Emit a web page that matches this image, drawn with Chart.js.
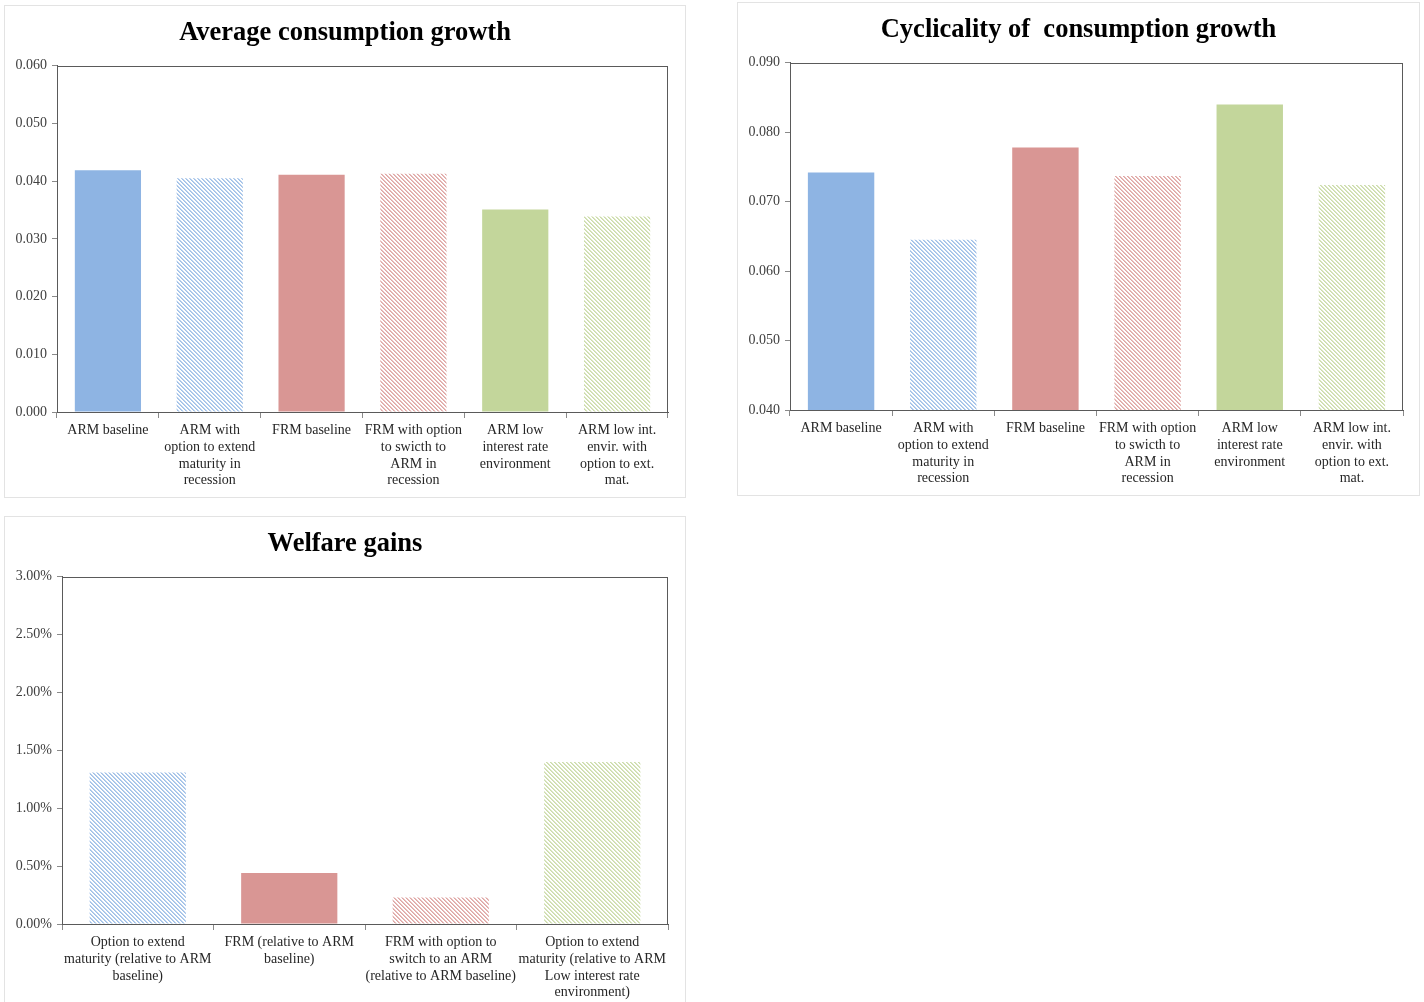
<!DOCTYPE html>
<html>
<head>
<meta charset="utf-8">
<script src="https://cdn.jsdelivr.net/npm/chart.js@4/dist/chart.umd.min.js"></script>
<style>
  html, body { margin: 0; padding: 0; background: #fff; width: 1424px; height: 1002px; overflow: hidden; }
  .panel { position: absolute; border: 1px solid #e3e3e3; background: #fff; box-sizing: border-box; }
  .panel canvas { display: block; }
</style>
</head>
<body>
<div class="panel" style="left:4px;top:5px;width:682px;height:493px;"><canvas id="avg" width="680" height="491"></canvas></div>
<div class="panel" style="left:737px;top:2px;width:683px;height:494px;"><canvas id="cyc" width="681" height="492"></canvas></div>
<div class="panel" style="left:4px;top:516px;width:682px;height:492px;"><canvas id="wel" width="680" height="490"></canvas></div>
<script>
// Scenario labels (one entry per category, split into the printed lines)
const scenarioLabels = [
  ['ARM baseline'],
  ['ARM with', 'option to extend', 'maturity in', 'recession'],
  ['FRM baseline'],
  ['FRM with option', 'to swicth to', 'ARM in', 'recession'],
  ['ARM low', 'interest rate', 'environment'],
  ['ARM low int.', 'envir. with', 'option to ext.', 'mat.']
];
const avgGrowth   = [0.0419, 0.0405, 0.0411, 0.0413, 0.0351, 0.0339];
const cyclicality = [0.0742, 0.0645, 0.0778, 0.0737, 0.0840, 0.0724];

const welfareLabels = [
  ['Option to extend', 'maturity (relative to ARM', 'baseline)'],
  ['FRM (relative to ARM', 'baseline)'],
  ['FRM with option to', 'switch to an ARM', '(relative to ARM baseline)'],
  ['Option to extend', 'maturity (relative to ARM', 'Low interest rate', 'environment)']
];
const welfareGains = [0.0131, 0.0044, 0.0023, 0.0140];

// Axis tick settings
const avgTicks = { min: 0, max: 0.06, step: 0.01 };
const cycTicks = { min: 0.04, max: 0.09, step: 0.01 };
const welTicks = { min: 0, max: 0.03, step: 0.005 };

const BLUE = '#8EB4E3', RED = '#D99694', GREEN = '#C3D69B';
const SERIF = "'Liberation Serif', 'DejaVu Serif', serif";

// Fine downward diagonal hatch fill: two tinted pixel lines, two blank
function hatch(color) {
  const c = document.createElement('canvas');
  c.width = 4; c.height = 4;
  const g = c.getContext('2d');
  g.fillStyle = '#fff';
  g.fillRect(0, 0, 4, 4);
  g.fillStyle = color;
  for (let y = 0; y < 4; y++) {
    for (let x = 0; x < 4; x++) {
      const d = ((x - y) % 4 + 4) % 4;
      if (d === 0) { g.globalAlpha = 0.85; g.fillRect(x, y, 1, 1); }
      if (d === 1) { g.globalAlpha = 0.6; g.fillRect(x, y, 1, 1); }
    }
  }
  return document.getElementById('avg').getContext('2d').createPattern(c, 'repeat');
}

const scenarioFills = [BLUE, hatch(BLUE), RED, hatch(RED), GREEN, hatch(GREEN)];
const welfareFills = [hatch(BLUE), RED, hatch(RED), hatch(GREEN)];

// Plot-area frame
const frame = {
  id: 'frame',
  afterDraw(chart) {
    const a = chart.chartArea, ctx = chart.ctx;
    ctx.save();
    ctx.strokeStyle = '#5a5a5a';
    ctx.lineWidth = 1;
    ctx.strokeRect(Math.round(a.left) + 0.5, Math.round(a.top) + 0.5,
                   Math.round(a.right - a.left) - 1, Math.round(a.bottom - a.top));
    ctx.restore();
  }
};

function makeChart(id, title, labels, values, fills, ticks, fmt, yWidth, rightGap, xHeight, barPct) {
  return new Chart(document.getElementById(id), {
    type: 'bar',
    data: {
      labels: labels,
      datasets: [{ data: values, backgroundColor: fills, borderWidth: 0,
                   barPercentage: barPct, categoryPercentage: 1 }]
    },
    options: {
      responsive: false,
      animation: false,
      layout: { padding: 0 },
      plugins: {
        legend: { display: false },
        tooltip: { enabled: false },
        title: {
          display: true, text: title, color: '#000',
          font: { family: SERIF, size: 26.5, weight: 'bold', lineHeight: 1.2 },
          padding: { top: 11, bottom: 17 }
        }
      },
      scales: {
        x: {
          grid: { drawOnChartArea: false, drawTicks: true, tickLength: 6, color: '#8a8a8a', offset: true },
          border: { color: '#5a5a5a' },
          ticks: { font: { family: SERIF, size: 14, lineHeight: 1.2 }, color: '#262626',
                   maxRotation: 0, autoSkip: false, padding: 4 },
          afterFit(s) { s.height = xHeight; }
        },
        y: {
          min: ticks.min, max: ticks.max,
          grid: { drawOnChartArea: false, drawTicks: true, tickLength: 5, color: '#8a8a8a' },
          border: { color: '#5a5a5a' },
          ticks: { stepSize: ticks.step, callback: fmt, font: { family: SERIF, size: 14 },
                   color: '#404040', padding: 5 },
          afterFit(s) { s.width = yWidth; }
        },
        // empty right-hand gutter so the title stays centred on the whole panel
        gutter: {
          type: 'linear', position: 'right', display: true,
          grid: { display: false }, border: { display: false }, ticks: { display: false },
          afterFit(s) { s.width = rightGap; }
        }
      }
    },
    plugins: [frame]
  });
}

const fixed3 = v => Number(v).toFixed(3);
const pct2 = v => (Number(v) * 100).toFixed(2) + '%';

makeChart('avg', 'Average consumption growth', scenarioLabels, avgGrowth, scenarioFills,
          avgTicks, fixed3, 52, 17, 85, 0.65);
makeChart('cyc', 'Cyclicality of  consumption growth', scenarioLabels, cyclicality, scenarioFills,
          cycTicks, fixed3, 52, 16, 85, 0.65);
makeChart('wel', 'Welfare gains', welfareLabels, welfareGains, welfareFills,
          welTicks, pct2, 57, 17, 83, 0.635);
</script>
</body>
</html>
